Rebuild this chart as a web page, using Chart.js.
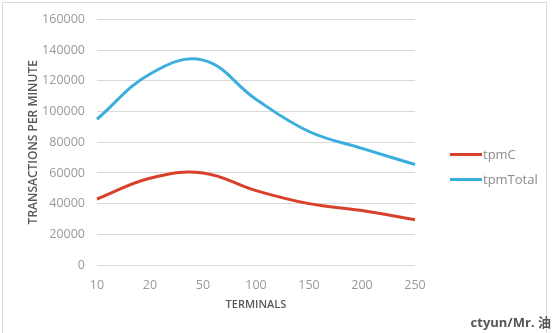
<!DOCTYPE html>
<html>
<head>
<meta charset="utf-8">
<script src="https://cdn.jsdelivr.net/npm/chart.js@4"></script>
<style>
  html, body { margin: 0; padding: 0; background: #fff; }
  #wrap { position: relative; width: 554px; height: 333px; }
  #frame { position: absolute; left: 2px; top: 2px; width: 545px; height: 340px; border: 1px solid #d9d9d9; box-sizing: border-box; pointer-events: none; }
  .leg { position: absolute; left: 450px; font: 13px "Open Sans", sans-serif; color: #8c8c8c; line-height: 16px; }
  .leg i { display: inline-block; width: 32px; height: 3px; vertical-align: middle; margin-right: 1px; position: relative; top: -1px; }
  #mark { position: absolute; right: 3px; bottom: 2px; font: bold 13px "Open Sans", "Noto Sans CJK SC", sans-serif; color: #555; }
</style>
</head>
<body>
<div id="wrap">
  <canvas id="chart" width="554" height="333"></canvas>
  <div id="frame"></div>
  <div class="leg" style="top:146px"><i style="background:#d9402b"></i>tpmC</div>
  <div class="leg" style="top:171px"><i style="background:#3aaedc"></i>tpmTotal</div>
  <div id="mark">ctyun/Mr. 油</div>
</div>
<script>
var terminals = ['10', '20', '50', '100', '150', '200', '250'];
var tpmC = [43000, 56500, 60000, 48500, 40000, 35500, 29500];
var tpmTotal = [95000, 124500, 133500, 108000, 87000, 76000, 65500];

var ctx = document.getElementById('chart').getContext('2d');
new Chart(ctx, {
    type: 'line',
    data: {
        labels: terminals,
        datasets: [{
            label: 'tpmC', data: tpmC, borderColor: '#d9402b', backgroundColor: '#d9402b',
            borderWidth: 3, pointRadius: 0, tension: 0.4
        }, {
            label: 'tpmTotal', data: tpmTotal, borderColor: '#3aaedc', backgroundColor: '#3aaedc',
            borderWidth: 3, pointRadius: 0, tension: 0.4
        }]
    },
    options: {
        responsive: false, animation: false,
        layout: { padding: { left: 22, right: 139, top: 17, bottom: 18 } },
        plugins: { legend: { display: false }, tooltip: { enabled: false } },
        scales: {
            x: {
                offset: false,
                grid: { display: false },
                border: { display: false },
                ticks: { color: '#999', font: { family: 'Open Sans', size: 12.5 }, padding: 5, maxRotation: 0 },
                title: { display: true, text: 'TERMINALS', color: '#595959', font: { family: 'Open Sans', size: 11, weight: 600 }, padding: { top: 4 } },
                afterFit: function (s) { s.height = 333 - 265 - 18; }
            },
            y: {
                min: 0, max: 160000,
                ticks: { stepSize: 20000, color: '#999', font: { family: 'Open Sans', size: 12.5 }, padding: 12,
                    callback: function (v) { return String(v); } },
                grid: { color: '#d9d9d9', drawTicks: false },
                border: { display: false },
                title: { display: true, text: 'TRANSACTIONS PER MINUTE', color: '#595959', font: { family: 'Open Sans', size: 12, weight: 600 } },
                afterFit: function (s) { s.width = 97 - 22; }
            }
        }
    }
});
</script>
</body>
</html>
